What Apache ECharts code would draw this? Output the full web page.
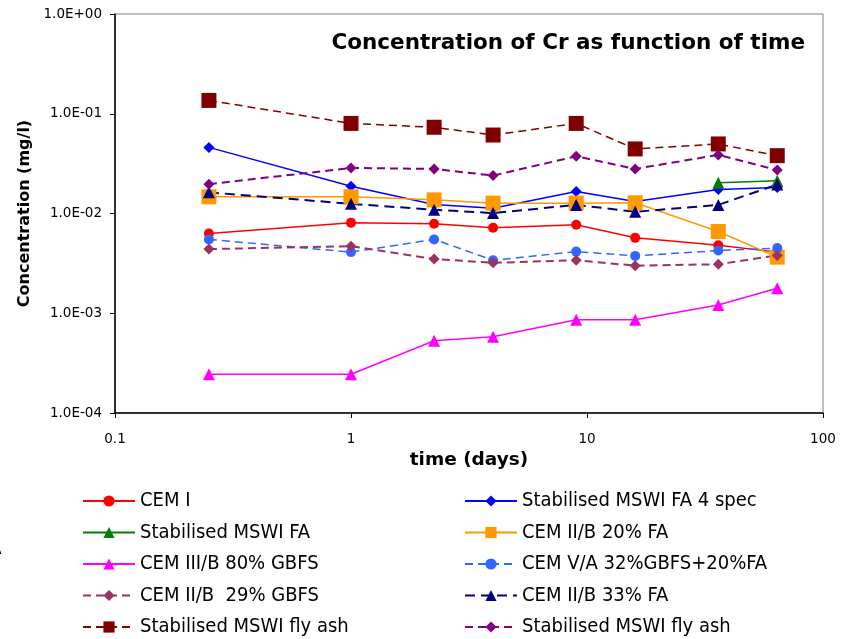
<!DOCTYPE html>
<html><head><meta charset="utf-8">
<script src="https://cdn.jsdelivr.net/npm/echarts@6/dist/echarts.min.js"></script>
<style>html,body{margin:0;padding:0;background:#fff}#c{width:843px;height:639px}</style>
</head><body><div id="c"></div>
<script>
const days = [0.25, 1, 2.25, 4, 9, 16, 36, 64];
const xTickLabels = ['0.1', '1', '10', '100'];
const yTickLabels = ['1.0E-04', '1.0E-03', '1.0E-02', '1.0E-01', '1.0E+00'];

const cemI          = [0.0063, 0.0081, 0.0079, 0.0072, 0.0077, 0.0057, 0.0048, 0.0041];
const mswiFa4spec   = [0.046, 0.0188, 0.0123, 0.0113, 0.0166, 0.0132, 0.0174, 0.0182];
const mswiFa        = [null, null, null, null, null, null, 0.0203, 0.0213];
const cemIIB20FA    = [0.0147, 0.0147, 0.0137, 0.0127, 0.0127, 0.0128, 0.0066, 0.00365];
const cemIIIB80     = [0.000245, 0.000245, 0.00053, 0.00058, 0.00086, 0.00086, 0.00121, 0.00178];
const cemVA         = [0.0055, 0.0041, 0.0055, 0.0034, 0.00415, 0.00376, 0.00425, 0.0045];
const cemIIB29GBFS  = [0.0044, 0.0047, 0.0035, 0.0032, 0.0034, 0.0030, 0.0031, 0.0038];
const cemIIB33FA    = [0.0163, 0.0125, 0.0109, 0.0101, 0.0122, 0.0104, 0.0122, 0.0195];
const mswiFlyAshA   = [0.136, 0.080, 0.0732, 0.0612, 0.080, 0.0444, 0.0498, 0.038];
const mswiFlyAshB   = [0.0197, 0.0286, 0.028, 0.024, 0.0375, 0.028, 0.0387, 0.0273];

const seriesNames = [
  'CEM I', 'Stabilised MSWI FA 4 spec',
  'Stabilised MSWI FA', 'CEM II/B 20% FA',
  'CEM III/B 80% GBFS', 'CEM V/A 32%GBFS+20%FA',
  'CEM II/B  29% GBFS', 'CEM II/B 33% FA',
  'Stabilised MSWI fly ash', 'Stabilised MSWI fly ash\u200b'
];

function pairs(vals) { return days.map((d, i) => [d, vals[i] == null ? '-' : vals[i]]); }

function mk(name, vals, color, symbol, size, dashed, width) {
  return {
    name: name, type: 'line', data: pairs(vals),
    symbol: symbol, symbolSize: size,
    showAllSymbol: true,
    lineStyle: { color: color, width: width || 1.5, type: dashed ? dashed : 'solid' },
    itemStyle: { color: color },
    emphasis: { disabled: true },
    animation: false,
    connectNulls: false
  };
}

const series = [
  mk(seriesNames[0], cemI, '#FF0000', 'circle', 10),
  mk(seriesNames[1], mswiFa4spec, '#0000FF', 'diamond', 11),
  mk(seriesNames[2], mswiFa, '#008000', 'triangle', 12),
  mk(seriesNames[3], cemIIB20FA, '#FF9900', 'rect', 15),
  mk(seriesNames[4], cemIIIB80, '#FF00FF', 'triangle', 12),
  mk(seriesNames[5], cemVA, '#3366FF', 'circle', 10, [8, 5]),
  mk(seriesNames[6], cemIIB29GBFS, '#993366', 'diamond', 11, [8, 5], 2),
  mk(seriesNames[7], cemIIB33FA, '#000080', 'triangle', 12, [10, 6], 2),
  mk(seriesNames[8], mswiFlyAshA, '#800000', 'rect', 15, [8, 5]),
  mk(seriesNames[9], mswiFlyAshB, '#800080', 'diamond', 11, [8, 5], 2)
];

function expIndex(v) { return Math.round(Math.log10(v)); }

const legendText = { fontSize: 20, color: '#000', fontFamily: '"DejaVu Sans Condensed","Liberation Sans Narrow","DejaVu Sans",sans-serif', lineHeight: 20 };
const tickFont = '"DejaVu Sans",sans-serif';

// one legend per entry, laid out in two columns of five rows
const legends = seriesNames.map((n, i) => ({
  left: i % 2 === 0 ? 82 : 464,
  top: 491 + Math.floor(i / 2) * 31.5,
  orient: 'vertical', padding: 0, itemWidth: 52, itemHeight: 14,
  data: [n], textStyle: legendText, selectedMode: false
}));

const chart = echarts.init(document.getElementById('c'), null, { renderer: 'canvas' });
chart.setOption({
  animation: false,
  backgroundColor: '#fff',
  title: {
    text: 'Concentration of Cr as function of time',
    right: 38, top: 32, padding: 0,
    textStyle: { fontSize: 21.5, fontWeight: 'bold', fontFamily: '"DejaVu Sans",sans-serif', color: '#000' }
  },
  grid: { left: 115, right: 20, top: 14, bottom: 226, show: true, borderColor: '#808080', borderWidth: 1 },
  xAxis: {
    type: 'log', logBase: 10, min: 0.1, max: 100,
    name: 'time (days)', nameLocation: 'middle', nameGap: 30,
    nameTextStyle: { fontSize: 18.5, fontWeight: 'bold', fontFamily: '"DejaVu Sans",sans-serif', color: '#000' },
    axisLine: { lineStyle: { color: '#000', width: 1.5 } },
    axisTick: { show: true, length: 5, lineStyle: { color: '#000' } },
    minorTick: { show: false },
    splitLine: { show: false },
    axisLabel: {
      fontSize: 13.5, color: '#000', fontFamily: tickFont, margin: 19,
      formatter: v => xTickLabels[expIndex(v) + 1]
    }
  },
  yAxis: {
    type: 'log', logBase: 10, min: 0.0001, max: 1,
    name: 'Concentration (mg/l)', nameLocation: 'middle', nameGap: 81, nameRotate: 90,
    nameTextStyle: { fontSize: 16, fontWeight: 'bold', fontFamily: '"DejaVu Sans",sans-serif', color: '#000' },
    axisLine: { show: true, lineStyle: { color: '#000', width: 1.5 } },
    axisTick: { show: true, length: 5, lineStyle: { color: '#000' } },
    splitLine: { show: false },
    axisLabel: {
      fontSize: 13.5, color: '#000', fontFamily: tickFont, margin: 13,
      formatter: v => yTickLabels[expIndex(v) + 4]
    }
  },
  legend: legends,
  graphic: [
    { type: 'text', left: -9, top: 541, style: { text: 'A', fontSize: 17, fill: '#000', fontFamily: '"DejaVu Sans Condensed","DejaVu Sans",sans-serif' } }
  ],
  series: series
});
</script>
</body></html>
